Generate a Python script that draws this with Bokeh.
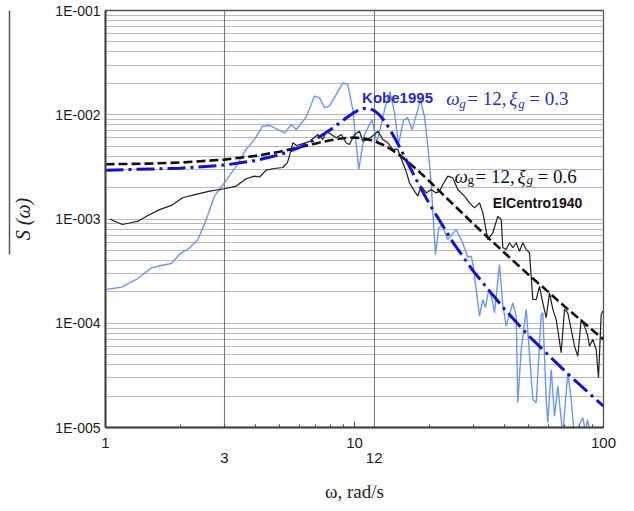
from bokeh.plotting import figure
from bokeh.models import (LogAxis, FixedTicker, CustomJSTickFormatter,
                          Grid, Range1d, Label)
from bokeh.embed import file_html
from bokeh.resources import INLINE

# ---------------- data ----------------
kobe_w = [1.01, 1.16, 1.33, 1.53, 1.67, 1.84, 1.98, 2.18, 2.35, 2.54,
          2.74, 3.00, 3.35, 3.67, 3.97, 4.27, 4.56, 5.24, 5.57, 5.83,
          6.40, 6.91, 7.23, 7.58, 7.94, 8.98, 9.40, 9.84, 10.4, 10.97,
          11.76, 12.31, 13.26, 13.89, 14.48, 15.02, 15.73, 16.33, 17.05, 17.96,
          18.36, 19.10, 19.70, 20.32, 20.67, 21.15, 21.81, 22.57, 23.64, 25.61,
          27.14, 28.51, 29.42, 30.06, 30.62, 31.77, 32.76, 33.58, 34.63, 35.73,
          36.50, 38.22, 39.41, 40.67, 43.23, 44.61, 45.27, 46.72, 48.93, 52.01,
          53.67, 56.21, 57.05, 58.88, 59.75, 61.66, 63.57, 65.54, 68.64, 71.89,
          74.19, 76.49, 80.11, 82.60, 84.68, 86.26, 89.50]
kobe_s = [2.11e-4, 2.22e-4, 2.63e-4, 3.40e-4, 3.58e-4, 3.74e-4, 4.57e-4, 5.30e-4, 6.35e-4, 9.88e-4,
          1.66e-3, 2.22e-3, 3.21e-3, 4.65e-3, 5.80e-3, 7.76e-3, 7.89e-3, 6.71e-3, 8.05e-3, 7.23e-3,
          9.51e-3, 1.51e-2, 1.46e-2, 1.17e-2, 1.21e-2, 2.02e-2, 1.95e-2, 1.12e-2, 2.99e-3, 6.47e-3,
          8.99e-3, 5.38e-3, 1.17e-2, 1.67e-2, 1.04e-2, 5.19e-3, 8.81e-3, 9.42e-3, 7.23e-3, 1.12e-2,
          1.40e-2, 9.68e-3, 4.99e-3, 2.22e-3, 1.10e-3, 4.57e-4, 8.24e-4, 8.67e-4, 6.35e-4, 7.92e-4,
          5.96e-4, 4.28e-4, 4.40e-4, 3.43e-4, 2.36e-4, 1.17e-4, 1.69e-4, 1.42e-4, 2.11e-4, 1.69e-4,
          1.26e-4, 3.66e-4, 1.51e-4, 9.38e-5, 1.57e-4, 1.17e-4, 1.73e-5, 5.60e-5, 1.36e-4, 1.86e-5,
          1.73e-5, 1.21e-4, 1.26e-4, 1.86e-5, 1.11e-5, 3.60e-5, 1.28e-5, 2.49e-5, 8.5e-6, 3.35e-5,
          1.86e-5, 7.7e-6, 1.07e-5, 1.24e-5, 9.1e-6, 1.19e-5, 7.7e-6]

elc_w = [1.04, 1.09, 1.17, 1.29, 1.35, 1.48, 1.65, 1.84, 2.04, 2.31,
         2.62, 3.01, 3.35, 3.67, 3.97, 4.16, 4.42, 4.77, 5.15, 5.38,
         5.57, 5.65, 5.85, 6.60, 7.12, 7.46, 7.70, 8.06, 8.45, 8.85,
         9.26, 9.55, 10.0, 10.47, 10.80, 11.31, 12.03, 12.41, 12.99, 13.61,
         14.25, 14.93, 15.63, 16.13, 16.63, 17.42, 17.96, 18.53, 19.41, 20.32,
         21.29, 21.95, 22.63, 23.70, 24.82, 26.00, 27.66, 28.96, 30.33, 31.77,
         32.76, 34.30, 35.93, 37.63, 38.84, 39.41, 40.67, 41.93, 43.23, 44.61,
         45.99, 47.41, 48.93, 50.45, 52.01, 53.67, 55.34, 57.05, 58.88, 60.70,
         62.58, 64.57, 67.62, 69.72, 71.89, 74.19, 76.49, 78.86, 81.37, 83.90,
         86.49, 87.87, 90.58, 93.47, 95.48, 97.90, 99.36]
elc_s = [1.00e-3, 9.53e-4, 8.85e-4, 9.31e-4, 9.53e-4, 1.08e-3, 1.23e-3, 1.35e-3, 1.60e-3, 1.72e-3,
         1.85e-3, 1.95e-3, 2.07e-3, 2.43e-3, 2.58e-3, 2.53e-3, 2.94e-3, 3.05e-3, 3.12e-3, 3.48e-3,
         4.65e-3, 5.38e-3, 5.07e-3, 5.53e-3, 6.47e-3, 5.80e-3, 6.95e-3, 6.47e-3, 6.01e-3, 6.47e-3,
         5.38e-3, 5.19e-3, 6.47e-3, 6.95e-3, 5.57e-3, 5.80e-3, 6.47e-3, 6.95e-3, 5.80e-3, 5.38e-3,
         4.65e-3, 4.65e-3, 3.46e-3, 2.86e-3, 2.22e-3, 1.85e-3, 1.66e-3, 2.07e-3, 1.78e-3, 1.92e-3,
         1.78e-3, 1.85e-3, 2.14e-3, 2.58e-3, 2.48e-3, 1.92e-3, 1.66e-3, 1.43e-3, 1.28e-3, 1.43e-3,
         1.15e-3, 6.35e-4, 7.38e-4, 1.06e-3, 9.88e-4, 5.30e-4, 5.09e-4, 5.92e-4, 5.30e-4, 5.92e-4,
         4.91e-4, 5.92e-4, 5.09e-4, 4.74e-4, 1.69e-4, 1.69e-4, 2.26e-4, 1.57e-4, 1.13e-4, 1.96e-4,
         1.36e-4, 1.09e-4, 5.21e-5, 1.36e-4, 1.26e-4, 8.71e-5, 6.03e-5, 4.83e-5, 1.09e-4, 9.38e-5,
         7.52e-5, 6.03e-5, 6.98e-5, 5.60e-5, 3.00e-5, 1.21e-4, 1.31e-4]

# fitted spectrum, omega_g = 12, xi_g = 0.6 (black dashed)
kt06_w = [1, 1.5, 2, 3, 4, 5, 6, 7, 8, 9, 10, 11, 12, 13, 14, 15, 16, 18, 20, 22,
          25, 30, 35, 40, 50, 60, 70, 80, 100]
kt06_s = [3.35e-3, 3.40e-3, 3.48e-3, 3.71e-3, 4.03e-3, 4.42e-3, 4.87e-3, 5.31e-3, 5.70e-3,
          5.96e-3, 6.04e-3, 5.90e-3, 5.59e-3, 5.16e-3, 4.67e-3, 4.18e-3, 3.71e-3, 2.91e-3,
          2.30e-3, 1.84e-3, 1.37e-3, 9.0e-4, 6.37e-4, 4.75e-4, 2.92e-4, 2.0e-4, 1.44e-4,
          1.10e-4, 7.0e-5]

# fitted spectrum, omega_g = 12, xi_g = 0.3 (blue dash-dot)
kt03_w = [1, 2, 3, 4, 5, 6, 7, 8, 9, 9.5, 10, 10.5, 11, 11.5, 12, 12.5, 13, 13.5, 14,
          15, 16, 18, 20, 25, 30, 40, 50, 60, 70, 80, 100]
kt03_s = [2.94e-3, 3.07e-3, 3.29e-3, 3.63e-3, 4.13e-3, 4.85e-3, 5.84e-3, 7.18e-3, 8.85e-3,
          9.74e-3, 1.056e-2, 1.119e-2, 1.152e-2, 1.144e-2, 1.096e-2, 1.014e-2, 9.11e-3,
          8.02e-3, 6.97e-3, 5.16e-3, 3.82e-3, 2.21e-3, 1.39e-3, 5.84e-4, 3.16e-4, 1.37e-4,
          7.6e-5, 4.96e-5, 3.48e-5, 2.59e-5, 1.6e-5]

x_major = [1, 10, 100]
x_stagger = [3, 12]
x_minor = [m * d for d in (1, 10) for m in range(2, 10)]
y_major = [1e-5, 1e-4, 1e-3, 1e-2, 1e-1]
y_minor = [m * d for d in (1e-5, 1e-4, 1e-3, 1e-2) for m in range(2, 10)]

# ---------------- figure ----------------
p = figure(x_axis_type="log", y_axis_type="log",
           x_range=Range1d(1, 100), y_range=Range1d(1e-5, 1e-1),
           frame_width=498, frame_height=417,
           min_border_left=105, min_border_top=10, min_border_right=20, min_border_bottom=70,
           output_backend="svg", toolbar_location=None,
           background_fill_color="white", border_fill_color="white",
           outline_line_color="#555555", outline_line_width=1.3)

# grids
p.xgrid.visible = False
p.ygrid.grid_line_color = "#b9b9b9"
p.ygrid.grid_line_width = 1.2
p.ygrid.minor_grid_line_color = "#b9b9b9"
p.ygrid.minor_grid_line_width = 1.2
p.add_layout(Grid(dimension=0, ticker=FixedTicker(ticks=x_stagger),
                  grid_line_color="#7a7a7a", grid_line_width=1.1))

# y axis
yax = p.yaxis[0]
yax.ticker = FixedTicker(ticks=y_major, minor_ticks=y_minor)
yax.formatter = CustomJSTickFormatter(code="""
const e = Math.round(Math.log10(tick));
return "1E-" + String(-e).padStart(3, "0");
""")
yax.major_tick_in = 0
yax.major_tick_out = 0
yax.minor_tick_in = 0
yax.minor_tick_out = 0
yax.major_label_standoff = 5
yax.major_label_text_font = "Liberation Sans"
yax.major_label_text_font_size = "14px"
yax.major_label_text_color = "#1a1a1a"
yax.axis_line_color = "#444444"
yax.axis_line_width = 2
yax.axis_label = "S (ω)"
yax.axis_label_text_font = "Liberation Serif"
yax.axis_label_text_font_style = "italic"
yax.axis_label_text_font_size = "20px"
yax.axis_label_text_color = "#222222"
yax.axis_label_standoff = 18

# the bar line left of the y label
bar = LogAxis(ticker=FixedTicker(ticks=[]), bounds=(4.56e-4, 0.117),
              axis_line_color="#555555", axis_line_width=1.5,
              major_tick_line_color=None, minor_tick_line_color=None,
              major_tick_in=0, major_tick_out=0, major_label_standoff=0,
              major_label_text_font_size="1px")
p.add_layout(bar, "left")

# x axis
fmt = CustomJSTickFormatter(code="return tick.toString();")
xax = p.xaxis[0]
xax.ticker = FixedTicker(ticks=x_major, minor_ticks=x_minor)
xax.formatter = fmt
xax.major_tick_in = 6
xax.major_tick_out = 0
xax.minor_tick_in = 3
xax.minor_tick_out = 0
xax.major_tick_line_color = "#444444"
xax.minor_tick_line_color = "#444444"
xax.axis_line_color = "#444444"
xax.axis_line_width = 2
xax.major_label_standoff = 10
xax.major_label_text_font = "Liberation Sans"
xax.major_label_text_font_size = "15px"
xax.major_label_text_color = "#1a1a1a"

x2 = LogAxis(ticker=FixedTicker(ticks=x_stagger), formatter=fmt,
             axis_line_color=None, major_tick_line_color=None, minor_tick_line_color=None,
             major_label_standoff=-4,
             major_label_text_font="Liberation Sans", major_label_text_font_size="15px",
             major_label_text_color="#1a1a1a",
             axis_label="ω, rad/s", axis_label_text_font="Liberation Serif",
             axis_label_text_font_style="normal", axis_label_text_font_size="19px",
             axis_label_text_color="#222222", axis_label_standoff=15)
p.add_layout(x2, "below")

# ---------------- lines ----------------
p.line(kobe_w, kobe_s, line_color="#6d97ee", line_width=1.4)
p.line(elc_w, elc_s, line_color="#1e1e1e", line_width=1.2)
p.line(kt06_w, kt06_s, line_color="#111111", line_width=2.6, line_dash="9 4")
p.line(kt03_w, kt03_s, line_color="#1212c6", line_width=3, line_dash="18 5 3 5")

# ---------------- annotations ----------------
p.add_layout(Label(x=10.73, y=1.47e-2, text="Kobe1995", text_font="Liberation Sans",
                   text_font_style="bold", text_font_size="15px", text_color="#2a2ab4",
                   text_baseline="alphabetic"))
p.add_layout(Label(x=35.93, y=1.41e-3, text="ElCentro1940", text_font="Liberation Sans",
                   text_font_style="bold", text_font_size="14px", text_color="#111111",
                   text_baseline="alphabetic"))


def formula(x, y, ysub, color, parts):
    for txt, dx, sub, style in parts:
        p.add_layout(Label(x=x, y=(ysub if sub else y), x_offset=dx, text=txt,
                           text_font="Liberation Serif",
                           text_font_size=("13px" if sub else "19px"),
                           text_font_style=style, text_color=color,
                           text_baseline="alphabetic"))


formula(23.35, 1.42e-2, 1.28e-2, "#2d2db0",
        [("ω", 0, False, "italic"), ("g", 13, True, "italic"), ("= 12,", 21, False, "normal"),
         ("ξ", 63, False, "italic"), ("g", 72, True, "italic"), ("= 0.3", 83, False, "normal")])
formula(25.21, 2.58e-3, 2.37e-3, "#111111",
        [("ω", 0, False, "italic"), ("g", 13, True, "normal"), ("= 12,", 21, False, "normal"),
         ("ξ", 63, False, "italic"), ("g", 72, True, "italic"), ("= 0.6", 83, False, "normal")])

open("out.html", "w").write(file_html(p, INLINE))
